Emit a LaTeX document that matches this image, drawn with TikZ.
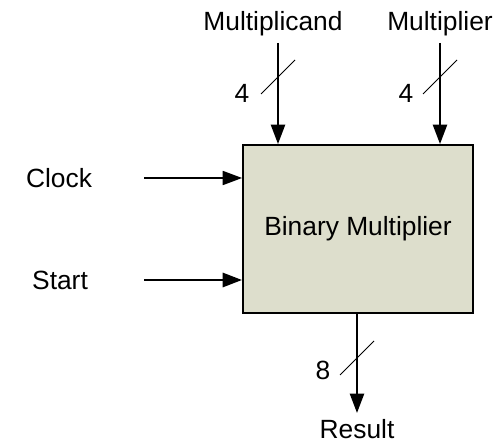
\documentclass[tikz,border=0pt]{standalone}
\usepackage{fontspec}
\setmainfont{Liberation Sans}
\usetikzlibrary{calc, positioning, arrows.meta}
\definecolor{boxfill}{RGB}{221,222,204}

\begin{document}
\begin{tikzpicture}[
  x=0.02cm, y=-0.02cm,
  font=\fontsize{15}{18}\selectfont,
  blk/.style={draw=black, line width=1.1pt, fill=boxfill, minimum width=4.6cm, minimum height=3.36cm, align=center},
  sig/.style={line width=1.2pt, -{Triangle[length=11pt, width=8pt]}},
  bus/.style={line width=0.6pt}
]
\useasboundingbox (0,0) rectangle (500,445);
\node[blk] (bm) at (358,229) {Binary Multiplier};
% inputs on top
\node (mcd) at (273,24) {Multiplicand};
\node (mpr) at (440,24) {Multiplier};
\coordinate (mcdin) at (278,43);
\coordinate (mprin) at (440,43);
\draw[sig] (mcdin) -- (mcdin |- bm.north);
\draw[sig] (mprin) -- (mprin |- bm.north);
\coordinate (mcdbus) at (278,77);
\coordinate (mprbus) at (440,77);
\draw[bus] ($(mcdbus)+(-17,17)$) -- ($(mcdbus)+(17,-17)$);
\draw[bus] ($(mprbus)+(-17,17)$) -- ($(mprbus)+(17,-17)$);
\node (mcdw) at (242,93) {4};
\node (mprw) at (406,93) {4};
% inputs on the left
\node (clk) at (59,178) {Clock};
\node (st) at (60,280) {Start};
\coordinate (clkin) at (144,178);
\coordinate (stin) at (144,280);
\draw[sig, line width=0.9pt] (clkin) -- (clkin -| bm.west);
\draw[sig, line width=1.5pt] (stin) -- (stin -| bm.west);
% output
\node (res) at (357,429) {Result};
\coordinate (resout) at (357,413);
\draw[sig] (resout |- bm.south) -- (resout);
\coordinate (resbus) at (357,358);
\draw[bus] ($(resbus)+(-17,17)$) -- ($(resbus)+(17,-17)$);
\node (resw) at (323,370) {8};
\end{tikzpicture}
\end{document}
